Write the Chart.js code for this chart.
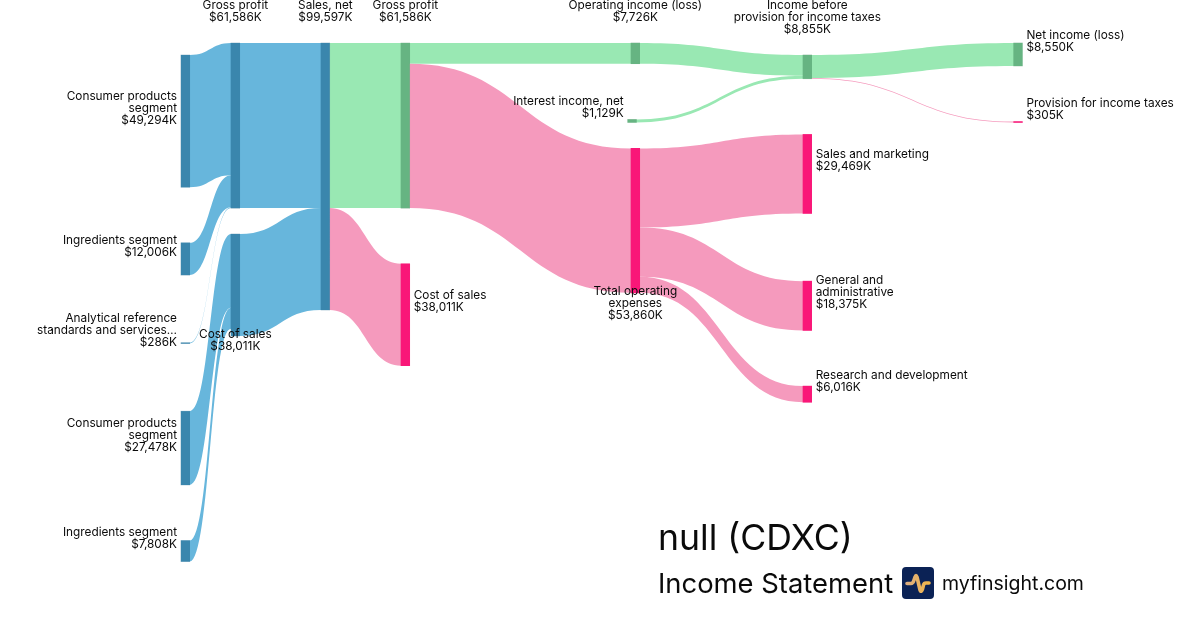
<!DOCTYPE html>
<html>
<head>
<meta charset="utf-8">
<title>null (CDXC) Income Statement</title>
<script src="https://cdn.jsdelivr.net/npm/chart.js@4/dist/chart.umd.min.js"></script>
<style>
    html, body { margin: 0; padding: 0; background: #fff; }
    body { width: 1200px; height: 630px; position: relative; overflow: hidden; font-family: Inter, sans-serif; color: #0a0a0a; }
    #wrap { position: absolute; left: 0; top: 0; width: 1200px; height: 630px; }
    .foot { position: absolute; white-space: nowrap; line-height: 1; }
    #company { left: 658px; top: 520px; font-size: 35.6px; }
    #statement { left: 658px; top: 570px; font-size: 27.4px; }
    #site { left: 942px; top: 574px; font-size: 19.5px; }
    #logo { position: absolute; left: 902px; top: 567px; }
</style>
</head>
<body>
<div id="wrap"><canvas id="chart" width="1200" height="630"></canvas></div>
<div class="foot" id="company">null (CDXC)</div>
<div class="foot" id="statement">Income Statement</div>
<svg id="logo" width="32" height="32" viewBox="0 0 32 32">
    <defs>
        <linearGradient id="pulse" x1="0" x2="1" y1="0" y2="0">
            <stop offset="0" stop-color="#dcae80"/>
            <stop offset="1" stop-color="#f2b64a"/>
        </linearGradient>
    </defs>
    <rect width="32" height="32" rx="4" fill="#0b2255"/>
    <path d="M5 16.5 H9 Q11 16.5 12 13 L13 10 Q14 7 15 10 L18 23 Q19 26 20.5 22 L21.5 18 Q22 16 24 16 H27" fill="none" stroke="url(#pulse)" stroke-width="3.6" stroke-linecap="round" stroke-linejoin="round"/>
</svg>
<div class="foot" id="site">myfinsight.com</div>

<script>
const nodeNames = [
    'Consumer products\nsegment', 'Ingredients segment', 'Analytical reference\nstandards and services…',
    'Consumer products\nsegment', 'Ingredients segment',
    'Gross profit', 'Cost of sales',
    'Sales, net',
    'Gross profit', 'Cost of sales',
    'Operating income (loss)', 'Interest income, net', 'Total operating\nexpenses',
    'Income before\nprovision for income taxes', 'Sales and marketing', 'General and\nadministrative', 'Research and development',
    'Net income (loss)', 'Provision for income taxes'
]
const nodeValues = [
    49294, 12006, 286, 27478, 7808,
    61586, 38011,
    99597,
    61586, 38011,
    7726, 1129, 53860,
    8855, 29469, 18375, 6016,
    8550, 305
]
const nodeColumns = [0, 0, 0, 0, 0, 1, 1, 2, 3, 3, 4, 4, 4, 5, 5, 5, 5, 6, 6]
const nodeKinds = [
    'rev', 'rev', 'rev', 'rev', 'rev',
    'rev', 'rev',
    'rev',
    'profit', 'cost',
    'profit', 'profit', 'cost',
    'profit', 'cost', 'cost', 'cost',
    'profit', 'cost'
]
const labelSides = [
    'left', 'left', 'left', 'left', 'left',
    'top', 'bottom',
    'top',
    'top', 'right',
    'top', 'left', 'bottom',
    'top', 'right', 'right', 'right',
    'right', 'right'
]

const flowFrom = [0, 1, 2, 3, 4, 5, 6, 7, 7, 8, 8, 10, 11, 13, 13, 12, 12, 12]
const flowTo = [5, 5, 5, 6, 6, 7, 7, 8, 9, 10, 12, 13, 13, 17, 18, 14, 15, 16]
const flowValues = [49294, 12006, 286, 27478, 7808, 61586, 38011, 61586, 38011, 7726, 53860, 7726, 1129, 8550, 305, 29469, 18375, 6016]

// left edge of every column on the 1200 wide x scale
const columnLeft = [181, 231, 321, 401, 631, 803, 1013.7]
const nodeWidth = 8.7
const kPerPx = 373
const topMargin = 43
const lineHeight = 12
const labelGap = 4
// the interest income node sits a little left of its column
const nudgedNode = 11
const nudge = -3.3

const flowColors = {rev: '#67b6dc', profit: '#99e8b3', cost: '#f59abd'}
const nodeColors = {rev: 'rgba(28, 102, 142, 0.6)', profit: 'rgba(68, 145, 97, 0.6)', cost: 'rgba(249, 12, 114, 0.92)'}

const labelLines = nodeNames.map((name, i) => [...name.split('\n'), '$' + nodeValues[i].toLocaleString('en-US') + 'K'])
const nodeLeft = nodeColumns.map((column, i) => columnLeft[column] + (i === nudgedNode ? nudge : 0))

// stack the nodes of each column, the gaps depend on how many label lines a node has
const nodeTops = []
columnLeft.forEach((left, column) => {
    let y = null
    nodeValues.forEach((value, i) => {
        if (nodeColumns[i] !== column) {
            return
        }
        const lines = labelLines[i].length
        if (y === null) {
            y = (lines - 2) * lineHeight * kPerPx
        } else if (labelSides[i] === 'bottom') {
            y += 26 * kPerPx
        } else {
            y += (31.7 + lines * lineHeight) * kPerPx
        }
        nodeTops[i] = y
        y += value
    })
})

const nodeBars = nodeValues.map((value, i) => ({
    x: nodeLeft[i] + nodeWidth / 2,
    y: [nodeTops[i], nodeTops[i] + value]
}))

const flowsPlugin = {
    id: 'flows',
    beforeDatasetsDraw(chart) {
        const {ctx, scales: {x, y}} = chart
        const usedOut = nodeValues.map(() => 0)
        const usedIn = nodeValues.map(() => 0)
        flowValues.forEach((value, i) => {
            const from = flowFrom[i]
            const to = flowTo[i]
            const x1 = x.getPixelForValue(nodeLeft[from] + nodeWidth)
            const x2 = x.getPixelForValue(nodeLeft[to])
            const x3 = x.getPixelForValue(nodeLeft[to] + nodeWidth)
            // run under the source node only when it has the colour of the flow
            const x0 = nodeKinds[from] === nodeKinds[to] ? x.getPixelForValue(nodeLeft[from]) : x1
            const mid = (x1 + x2) / 2
            const a0 = y.getPixelForValue(nodeTops[from] + usedOut[from])
            const a1 = y.getPixelForValue(nodeTops[from] + usedOut[from] + value)
            const b0 = y.getPixelForValue(nodeTops[to] + usedIn[to])
            const b1 = y.getPixelForValue(nodeTops[to] + usedIn[to] + value)
            usedOut[from] += value
            usedIn[to] += value

            ctx.save()
            ctx.beginPath()
            ctx.moveTo(x0, a0)
            ctx.lineTo(x1, a0)
            ctx.bezierCurveTo(mid, a0, mid, b0, x2, b0)
            ctx.lineTo(x3, b0)
            ctx.lineTo(x3, b1)
            ctx.lineTo(x2, b1)
            ctx.bezierCurveTo(mid, b1, mid, a1, x1, a1)
            ctx.lineTo(x0, a1)
            ctx.closePath()
            ctx.fillStyle = flowColors[nodeKinds[to]]
            ctx.fill()
            ctx.restore()
        })
    }
}

const labelsPlugin = {
    id: 'nodeLabels',
    afterDatasetsDraw(chart) {
        const {ctx, scales: {x, y}} = chart
        ctx.save()
        ctx.font = '11.8px Inter'
        ctx.fillStyle = '#0a0a0a'
        ctx.textBaseline = 'middle'
        labelLines.forEach((lines, i) => {
            const left = x.getPixelForValue(nodeLeft[i])
            const top = y.getPixelForValue(nodeTops[i])
            const bottom = y.getPixelForValue(nodeTops[i] + nodeValues[i])
            const side = labelSides[i]
            let textX = left + nodeWidth / 2
            let firstY = (top + bottom) / 2 - 13 - (lines.length - 1) * lineHeight / 2
            ctx.textAlign = 'center'
            if (side === 'left') {
                textX = left - labelGap
                ctx.textAlign = 'right'
            } else if (side === 'right') {
                textX = left + nodeWidth + labelGap
                ctx.textAlign = 'left'
            } else if (side === 'top') {
                firstY = top - 25.5 - (lines.length - 1) * lineHeight
            } else {
                firstY = bottom - 1.5
            }
            lines.forEach((line, n) => ctx.fillText(line, textX, firstY + n * lineHeight))
        })
        ctx.restore()
    }
}

new Chart(document.getElementById('chart'), {
    type: 'bar',
    data: {
        datasets: [{
            data: nodeBars,
            backgroundColor: nodeKinds.map(kind => nodeColors[kind]),
            barThickness: nodeWidth,
            borderWidth: 0
        }]
    },
    options: {
        responsive: false,
        animation: false,
        layout: {padding: 0},
        plugins: {legend: {display: false}, title: {display: false}, tooltip: {enabled: false}},
        scales: {
            x: {type: 'linear', display: false, min: 0, max: 1200, offset: false},
            y: {type: 'linear', display: false, reverse: true, min: -topMargin * kPerPx, max: (630 - topMargin) * kPerPx}
        }
    },
    plugins: [flowsPlugin, labelsPlugin]
})
</script>
</body>
</html>
